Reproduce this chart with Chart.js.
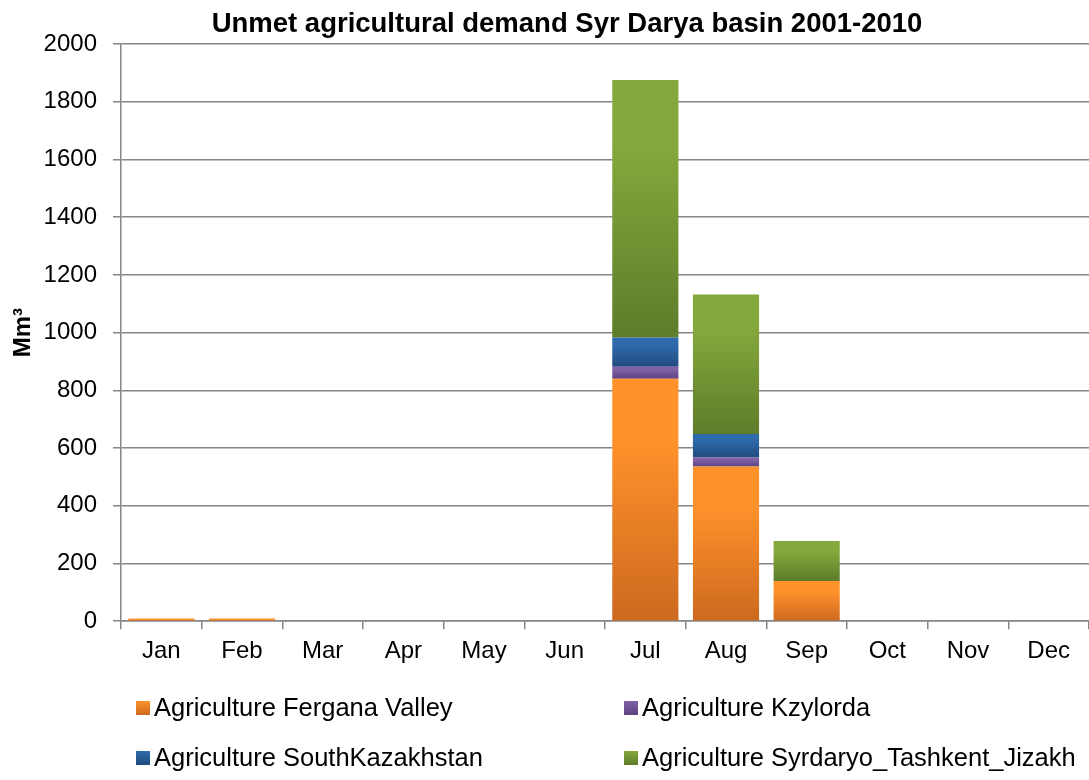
<!DOCTYPE html>
<html>
<head>
<meta charset="utf-8">
<script src="https://cdn.jsdelivr.net/npm/chart.js@4"></script>
<style>
  html, body { margin: 0; padding: 0; background: #fff; }
  #wrap { position: relative; width: 1089px; height: 780px; overflow: hidden; }
  canvas { position: absolute; left: 0; top: 0; }
  .lg { position: absolute; font-family: "Liberation Sans", Arial, sans-serif; font-size: 25.5px; color: #000; white-space: nowrap; line-height: 30px; }
  .lg span.box { display: inline-block; width: 14px; height: 14px; margin-right: 4px; vertical-align: 1px; }
  #title { position: absolute; left: 0; width: 1134px; top: 6px; text-align: center; font-family: "Liberation Sans", Arial, sans-serif; font-weight: bold; font-size: 27.5px; line-height: 33px; color: #000; white-space: nowrap; }
</style>
</head>
<body>
<div id="wrap">
  <canvas id="c" width="1089" height="780"></canvas>
  <div id="title"></div>
</div>
<script>
const chartTitle = "Unmet agricultural demand Syr Darya basin 2001-2010";
const months = ["Jan","Feb","Mar","Apr","May","Jun","Jul","Aug","Sep","Oct","Nov","Dec"];
const ferganaValley = [9, 9, 0, 0, 0, 0, 840, 536, 139, 0, 0, 0];
const kzylorda      = [0, 0, 0, 0, 0, 0, 42, 31, 0, 0, 0, 0];
const southKazakh   = [0, 0, 0, 0, 0, 0, 101, 82, 0, 0, 0, 0];
const syrdaryoTJ    = [0, 0, 0, 0, 0, 0, 892, 483, 139, 0, 0, 0];
const seriesNames = ["Agriculture Fergana Valley", "Agriculture Kzylorda", "Agriculture SouthKazakhstan", "Agriculture Syrdaryo_Tashkent_Jizakh"];
const yTicks = [0, 200, 400, 600, 800, 1000, 1200, 1400, 1600, 1800, 2000];

const topColors = ["#FF922B", "#8061A8", "#2F6AAB", "#85A83C"];
const botColors = ["#CC691F", "#5D4280", "#214C80", "#5E7C2A"];
const seriesData = [ferganaValley, kzylorda, southKazakh, syrdaryoTJ];

function gradFill(ctx) {
  const chart = ctx.chart;
  const ds = ctx.datasetIndex, i = ctx.dataIndex;
  const y = chart.scales && chart.scales.y;
  if (!chart.chartArea || !y || i === undefined) return topColors[ds];
  let start = 0;
  for (let k = 0; k < ds; k++) start += seriesData[k][i];
  const end = start + seriesData[ds][i];
  const y0 = y.getPixelForValue(start), y1 = y.getPixelForValue(end);
  if (!isFinite(y0) || !isFinite(y1) || Math.abs(y0 - y1) < 1) return topColors[ds];
  const g = chart.ctx.createLinearGradient(0, y1, 0, y0);
  g.addColorStop(0, topColors[ds]);
  g.addColorStop(0.25, topColors[ds]);
  g.addColorStop(1, botColors[ds]);
  return g;
}

const FONT = "'Liberation Sans', Arial, sans-serif";

new Chart(document.getElementById('c'), {
  type: 'bar',
  data: {
    labels: months,
    datasets: seriesData.map((d, k) => ({
      label: seriesNames[k],
      data: d,
      backgroundColor: gradFill,
      borderWidth: 0,
      barPercentage: 0.82,
      categoryPercentage: 1.0
    }))
  },
  options: {
    responsive: false,
    animation: false,
    layout: { padding: { left: 9, right: 0, top: 44, bottom: 106 } },
    plugins: {
      legend: { display: false },
      tooltip: { enabled: false },
      title: { display: false }
    },
    scales: {
      x: {
        stacked: true,
        offset: true,
        grid: { display: true, drawOnChartArea: false, drawTicks: true, tickLength: 8, color: "#868686", lineWidth: 1.5, offset: true },
        border: { display: true, color: "#868686", width: 1.5 },
        ticks: { color: "#000", font: { family: FONT, size: 24 }, padding: 8, maxRotation: 0 }
      },
      y: {
        stacked: true,
        min: 0, max: 2000,
        afterBuildTicks: s => { s.ticks = yTicks.map(v => ({ value: v })); },
        afterFit: s => { s.width = 112; },
        grid: { color: "#868686", lineWidth: 1.5, tickLength: 8 },
        border: { display: true, color: "#868686", width: 1.5 },
        ticks: { color: "#000", font: { family: FONT, size: 24 }, padding: 16, callback: v => String(v) },
        title: { display: true, text: "Mm³", color: "#000", font: { family: FONT, size: 24, weight: 'bold' }, padding: { top: 0, bottom: 6 } }
      }
    }
  }
});

document.getElementById('title').textContent = chartTitle;

// HTML legend built from the series arrays
const wrap = document.getElementById('wrap');
const legendPos = [[136, 692], [624, 692], [136, 742], [624, 742]];
seriesNames.forEach((n, k) => {
  const d = document.createElement('div');
  d.className = 'lg';
  d.style.left = legendPos[k][0] + 'px';
  d.style.top = legendPos[k][1] + 'px';
  const b = document.createElement('span');
  b.className = 'box';
  b.style.background = `linear-gradient(${topColors[k]}, ${botColors[k]})`;
  d.appendChild(b);
  d.appendChild(document.createTextNode(n));
  wrap.appendChild(d);
});
</script>
</body>
</html>
